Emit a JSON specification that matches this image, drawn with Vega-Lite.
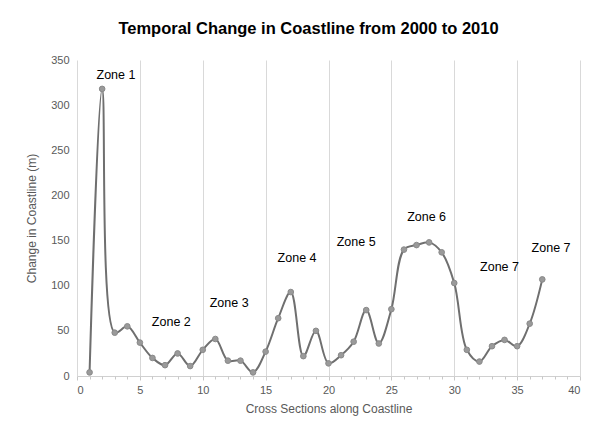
{
  "$schema": "https://vega.github.io/schema/vega-lite/v6.json",
  "width": 503,
  "height": 316,
  "autosize": {"type": "none"},
  "padding": {"left": 77, "top": 60, "right": 16, "bottom": 58},
  "background": "white",
  "title": {
    "text": "Temporal Change in Coastline from 2000 to 2010",
    "font": "Liberation Sans",
    "fontSize": 16.5,
    "fontWeight": "bold",
    "color": "#000000",
    "anchor": "middle",
    "dx": -20,
    "offset": 17
  },
  "config": {
    "view": {"stroke": null},
    "axis": {
      "labelFont": "Liberation Sans",
      "titleFont": "Liberation Sans",
      "labelColor": "#595959",
      "titleColor": "#595959",
      "labelFontSize": 11,
      "titleFontSize": 12,
      "titleFontWeight": "normal"
    }
  },
  "datasets": {
    "series": [
      {"section": 1, "change": 4},
      {"section": 2, "change": 318},
      {"section": 3, "change": 48},
      {"section": 4, "change": 55},
      {"section": 5, "change": 37},
      {"section": 6, "change": 20},
      {"section": 7, "change": 12},
      {"section": 8, "change": 25},
      {"section": 9, "change": 11},
      {"section": 10, "change": 29},
      {"section": 11, "change": 41},
      {"section": 12, "change": 17},
      {"section": 13, "change": 17},
      {"section": 14, "change": 4},
      {"section": 15, "change": 27},
      {"section": 16, "change": 64},
      {"section": 17, "change": 93},
      {"section": 18, "change": 22},
      {"section": 19, "change": 50},
      {"section": 20, "change": 14},
      {"section": 21, "change": 23},
      {"section": 22, "change": 38},
      {"section": 23, "change": 73},
      {"section": 24, "change": 36},
      {"section": 25, "change": 74},
      {"section": 26, "change": 140},
      {"section": 27, "change": 145},
      {"section": 28, "change": 148},
      {"section": 29, "change": 137},
      {"section": 30, "change": 103},
      {"section": 31, "change": 29},
      {"section": 32, "change": 16},
      {"section": 33, "change": 33},
      {"section": 34, "change": 40},
      {"section": 35, "change": 33},
      {"section": 36, "change": 58},
      {"section": 37, "change": 107}
    ],
    "zones": [
      {"x": 3.1, "y": 333, "label": "Zone 1"},
      {"x": 7.5, "y": 60, "label": "Zone 2"},
      {"x": 12.1, "y": 81, "label": "Zone 3"},
      {"x": 17.5, "y": 131, "label": "Zone 4"},
      {"x": 22.2, "y": 148, "label": "Zone 5"},
      {"x": 27.8, "y": 176, "label": "Zone 6"},
      {"x": 33.6, "y": 121, "label": "Zone 7"},
      {"x": 37.7, "y": 142, "label": "Zone 7"}
    ]
  },
  "layer": [
    {
      "data": {"name": "series"},
      "mark": {"type": "line", "interpolate": "catmull-rom", "color": "#6f6f6f", "strokeWidth": 2},
      "encoding": {
        "x": {
          "field": "section", "type": "quantitative",
          "scale": {"domain": [0, 40], "nice": false},
          "axis": {
            "title": "Cross Sections along Coastline",
            "values": [0, 5, 10, 15, 20, 25, 30, 35, 40],
            "grid": true, "gridColor": "#d9d9d9",
            "domainColor": "#d0d0d0", "tickColor": "#c8c8c8",
            "tickSize": 4, "labelPadding": 4, "titlePadding": 8
          }
        },
        "y": {
          "field": "change", "type": "quantitative",
          "scale": {"domain": [0, 350], "nice": false},
          "axis": {
            "title": "Change in Coastline (m)",
            "values": [0, 50, 100, 150, 200, 250, 300, 350],
            "grid": false, "domain": false, "ticks": false,
            "labelPadding": 8, "titlePadding": 12
          }
        }
      }
    },
    {
      "data": {"name": "series"},
      "mark": {"type": "point", "filled": true, "color": "#9a9a9a", "stroke": "#8a8a8a", "strokeWidth": 1, "size": 32, "opacity": 1},
      "encoding": {
        "x": {"field": "section", "type": "quantitative", "axis": {
          "orient": "bottom", "values": [1,2,3,4,6,7,8,9,11,12,13,14,16,17,18,19,21,22,23,24,26,27,28,29,31,32,33,34,36,37,38,39],
          "labels": false, "title": null, "grid": false, "domain": false, "tickColor": "#c8c8c8", "tickSize": 3}},
        "y": {"field": "change", "type": "quantitative"}
      }
    },
    {
      "data": {"name": "zones"},
      "mark": {"type": "text", "font": "Liberation Sans", "fontSize": 12.5, "color": "#000000"},
      "encoding": {
        "x": {"field": "x", "type": "quantitative", "axis": null},
        "y": {"field": "y", "type": "quantitative"},
        "text": {"field": "label"}
      }
    }
  ],
  "resolve": {"axis": {"x": "independent"}}
}
